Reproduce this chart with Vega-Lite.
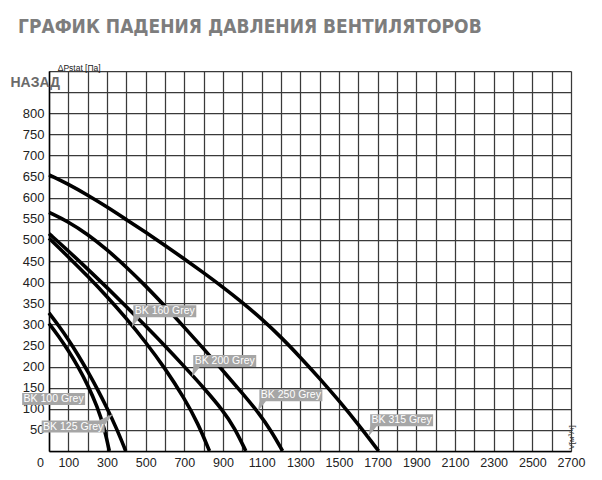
{
  "$schema": "https://vega.github.io/schema/vega-lite/v6.json",
  "width": 522,
  "height": 380,
  "autosize": {"type": "none"},
  "padding": {"left": 49, "top": 71, "right": 31, "bottom": 29},
  "background": "white",
  "title": {
    "text": "ГРАФИК ПАДЕНИЯ ДАВЛЕНИЯ ВЕНТИЛЯТОРОВ",
    "anchor": "start",
    "frame": "group",
    "dx": -31,
    "offset": 27,
    "font": "DejaVu Sans Condensed, Liberation Sans, sans-serif",
    "fontSize": 19,
    "fontWeight": "bold",
    "color": "#7d7d7d"
  },
  "config": {
    "view": {"stroke": null},
    "axis": {"ticks": false, "labelFont": "Liberation Sans", "labelColor": "#222222", "gridColor": "#3a3a3a", "gridWidth": 1.25, "domainColor": "#000000", "domainWidth": 1.5}
  },
  "datasets": {
    "curves": [
      {"m": "BK 100 Grey", "v": 0, "p": 302},
      {"m": "BK 100 Grey", "v": 50, "p": 272},
      {"m": "BK 100 Grey", "v": 100, "p": 238},
      {"m": "BK 100 Grey", "v": 150, "p": 200},
      {"m": "BK 100 Grey", "v": 200, "p": 157},
      {"m": "BK 100 Grey", "v": 250, "p": 105},
      {"m": "BK 100 Grey", "v": 287, "p": 53},
      {"m": "BK 100 Grey", "v": 312, "p": 0},
      {"m": "BK 125 Grey", "v": 0, "p": 327},
      {"m": "BK 125 Grey", "v": 50, "p": 297},
      {"m": "BK 125 Grey", "v": 100, "p": 264},
      {"m": "BK 125 Grey", "v": 150, "p": 228},
      {"m": "BK 125 Grey", "v": 200, "p": 189},
      {"m": "BK 125 Grey", "v": 250, "p": 147},
      {"m": "BK 125 Grey", "v": 300, "p": 102},
      {"m": "BK 125 Grey", "v": 350, "p": 53},
      {"m": "BK 125 Grey", "v": 397, "p": 0},
      {"m": "BK 160 Grey", "v": 0, "p": 504},
      {"m": "BK 160 Grey", "v": 100, "p": 460},
      {"m": "BK 160 Grey", "v": 200, "p": 414},
      {"m": "BK 160 Grey", "v": 300, "p": 366},
      {"m": "BK 160 Grey", "v": 400, "p": 314},
      {"m": "BK 160 Grey", "v": 500, "p": 258},
      {"m": "BK 160 Grey", "v": 600, "p": 196},
      {"m": "BK 160 Grey", "v": 700, "p": 125},
      {"m": "BK 160 Grey", "v": 770, "p": 66},
      {"m": "BK 160 Grey", "v": 830, "p": 0},
      {"m": "BK 200 Grey", "v": 0, "p": 515},
      {"m": "BK 200 Grey", "v": 100, "p": 474},
      {"m": "BK 200 Grey", "v": 200, "p": 431},
      {"m": "BK 200 Grey", "v": 300, "p": 387},
      {"m": "BK 200 Grey", "v": 400, "p": 342},
      {"m": "BK 200 Grey", "v": 500, "p": 296},
      {"m": "BK 200 Grey", "v": 600, "p": 249},
      {"m": "BK 200 Grey", "v": 700, "p": 200},
      {"m": "BK 200 Grey", "v": 800, "p": 150},
      {"m": "BK 200 Grey", "v": 900, "p": 96},
      {"m": "BK 200 Grey", "v": 960, "p": 55},
      {"m": "BK 200 Grey", "v": 1018, "p": 0},
      {"m": "BK 250 Grey", "v": 0, "p": 565},
      {"m": "BK 250 Grey", "v": 100, "p": 543},
      {"m": "BK 250 Grey", "v": 200, "p": 513},
      {"m": "BK 250 Grey", "v": 300, "p": 477},
      {"m": "BK 250 Grey", "v": 400, "p": 436},
      {"m": "BK 250 Grey", "v": 500, "p": 391},
      {"m": "BK 250 Grey", "v": 600, "p": 343},
      {"m": "BK 250 Grey", "v": 700, "p": 293},
      {"m": "BK 250 Grey", "v": 800, "p": 242},
      {"m": "BK 250 Grey", "v": 900, "p": 190},
      {"m": "BK 250 Grey", "v": 1000, "p": 137},
      {"m": "BK 250 Grey", "v": 1082, "p": 92},
      {"m": "BK 250 Grey", "v": 1150, "p": 47},
      {"m": "BK 250 Grey", "v": 1208, "p": 0},
      {"m": "BK 315 Grey", "v": 0, "p": 654},
      {"m": "BK 315 Grey", "v": 100, "p": 632},
      {"m": "BK 315 Grey", "v": 200, "p": 606},
      {"m": "BK 315 Grey", "v": 300, "p": 578},
      {"m": "BK 315 Grey", "v": 400, "p": 548},
      {"m": "BK 315 Grey", "v": 500, "p": 518},
      {"m": "BK 315 Grey", "v": 600, "p": 487},
      {"m": "BK 315 Grey", "v": 700, "p": 455},
      {"m": "BK 315 Grey", "v": 800, "p": 422},
      {"m": "BK 315 Grey", "v": 900, "p": 388},
      {"m": "BK 315 Grey", "v": 1000, "p": 352},
      {"m": "BK 315 Grey", "v": 1100, "p": 313},
      {"m": "BK 315 Grey", "v": 1200, "p": 270},
      {"m": "BK 315 Grey", "v": 1300, "p": 222},
      {"m": "BK 315 Grey", "v": 1400, "p": 172},
      {"m": "BK 315 Grey", "v": 1500, "p": 119},
      {"m": "BK 315 Grey", "v": 1600, "p": 63},
      {"m": "BK 315 Grey", "v": 1705, "p": 0}
    ],
    "labels": [
      {"t": "BK 100 Grey", "v": 24, "p": 123, "ptr": "none"},
      {"t": "BK 125 Grey", "v": 125, "p": 58, "ptr": "tr"},
      {"t": "BK 160 Grey", "v": 599, "p": 331, "ptr": "bl"},
      {"t": "BK 200 Grey", "v": 909, "p": 213, "ptr": "bl"},
      {"t": "BK 250 Grey", "v": 1251, "p": 132, "ptr": "bl"},
      {"t": "BK 315 Grey", "v": 1824, "p": 73, "ptr": "bl"}
    ],
    "notes": [
      {"t": "ΔPstat [Па]", "v": 45, "p": 900}
    ]
  },
  "encoding": {
    "x": {
      "field": "v",
      "type": "quantitative",
      "scale": {"domain": [0, 2700], "nice": false},
      "axis": {
        "values": [0, 100, 200, 300, 400, 500, 600, 700, 800, 900, 1000, 1100, 1200, 1300, 1400, 1500, 1600, 1700, 1800, 1900, 2000, 2100, 2200, 2300, 2400, 2500, 2600, 2700],
        "labelExpr": "(datum.value % 200 == 100 || datum.value == 0) ? datum.label : ''",
        "format": "d",
        "grid": true,
        "labelFlush": false,
        "labelOverlap": false,
        "labelFontSize": 12.5,
        "labelPadding": 5,
        "labelOffset": {"condition": {"test": "datum.value == 0", "value": -9}, "value": 0},
        "title": "V[м³/ч]",
        "titleAngle": 270,
        "titleX": 522,
        "titleY": -2,
        "titleAlign": "left",
        "titleBaseline": "middle",
        "titleFont": "Liberation Sans",
        "titleFontSize": 8,
        "titleFontWeight": "normal",
        "titleColor": "#333333"
      }
    },
    "y": {
      "field": "p",
      "type": "quantitative",
      "scale": {"domain": [0, 900], "nice": false},
      "axis": {
        "values": [0, 50, 100, 150, 200, 250, 300, 350, 400, 450, 500, 550, 600, 650, 700, 750, 800, 850, 900],
        "labelExpr": "(datum.value == 0 || datum.value >= 850) ? '' : datum.label",
        "grid": true,
        "labelFontSize": 13,
        "labelPadding": 5,
        "title": "НАЗАД",
        "titleAngle": 0,
        "titleX": -39,
        "titleY": 15,
        "titleAlign": "left",
        "titleBaseline": "alphabetic",
        "titleFont": "Liberation Sans",
        "titleFontSize": 14,
        "titleFontWeight": "bold",
        "titleColor": "#6a6a6a"
      }
    }
  },
  "layer": [
    {
      "data": {"name": "curves"},
      "mark": {"type": "line", "color": "#000000", "strokeWidth": 3.6, "interpolate": "basis"},
      "encoding": {"detail": {"field": "m"}}
    },
    {
      "data": {"name": "labels"},
      "mark": {"type": "point", "filled": true, "opacity": 1, "size": 4096, "fill": "#a6a6a6", "strokeWidth": 0},
      "encoding": {
        "shape": {
          "field": "ptr",
          "scale": {
            "domain": ["bl", "tr", "none"],
            "range": [
              "M-0.984,-0.1875H0.984V0.1875H-0.78L-1.03,0.5L-0.984,0.1875Z",
              "M-0.984,-0.1875H0.80L1.25,-0.4L0.984,-0.05V0.1875H-0.984Z",
              "M-0.984,-0.1875H0.984V0.1875H-0.984Z"
            ]
          },
          "legend": null
        }
      }
    },
    {
      "data": {"name": "labels"},
      "mark": {"type": "text", "color": "#ffffff", "font": "Liberation Sans", "fontSize": 10.5, "align": "center", "baseline": "middle"},
      "encoding": {"text": {"field": "t"}}
    },
    {
      "data": {"name": "notes"},
      "mark": {"type": "text", "color": "#222222", "font": "Liberation Sans", "fontSize": 8.5, "align": "left", "baseline": "alphabetic"},
      "encoding": {"text": {"field": "t"}}
    }
  ]
}
